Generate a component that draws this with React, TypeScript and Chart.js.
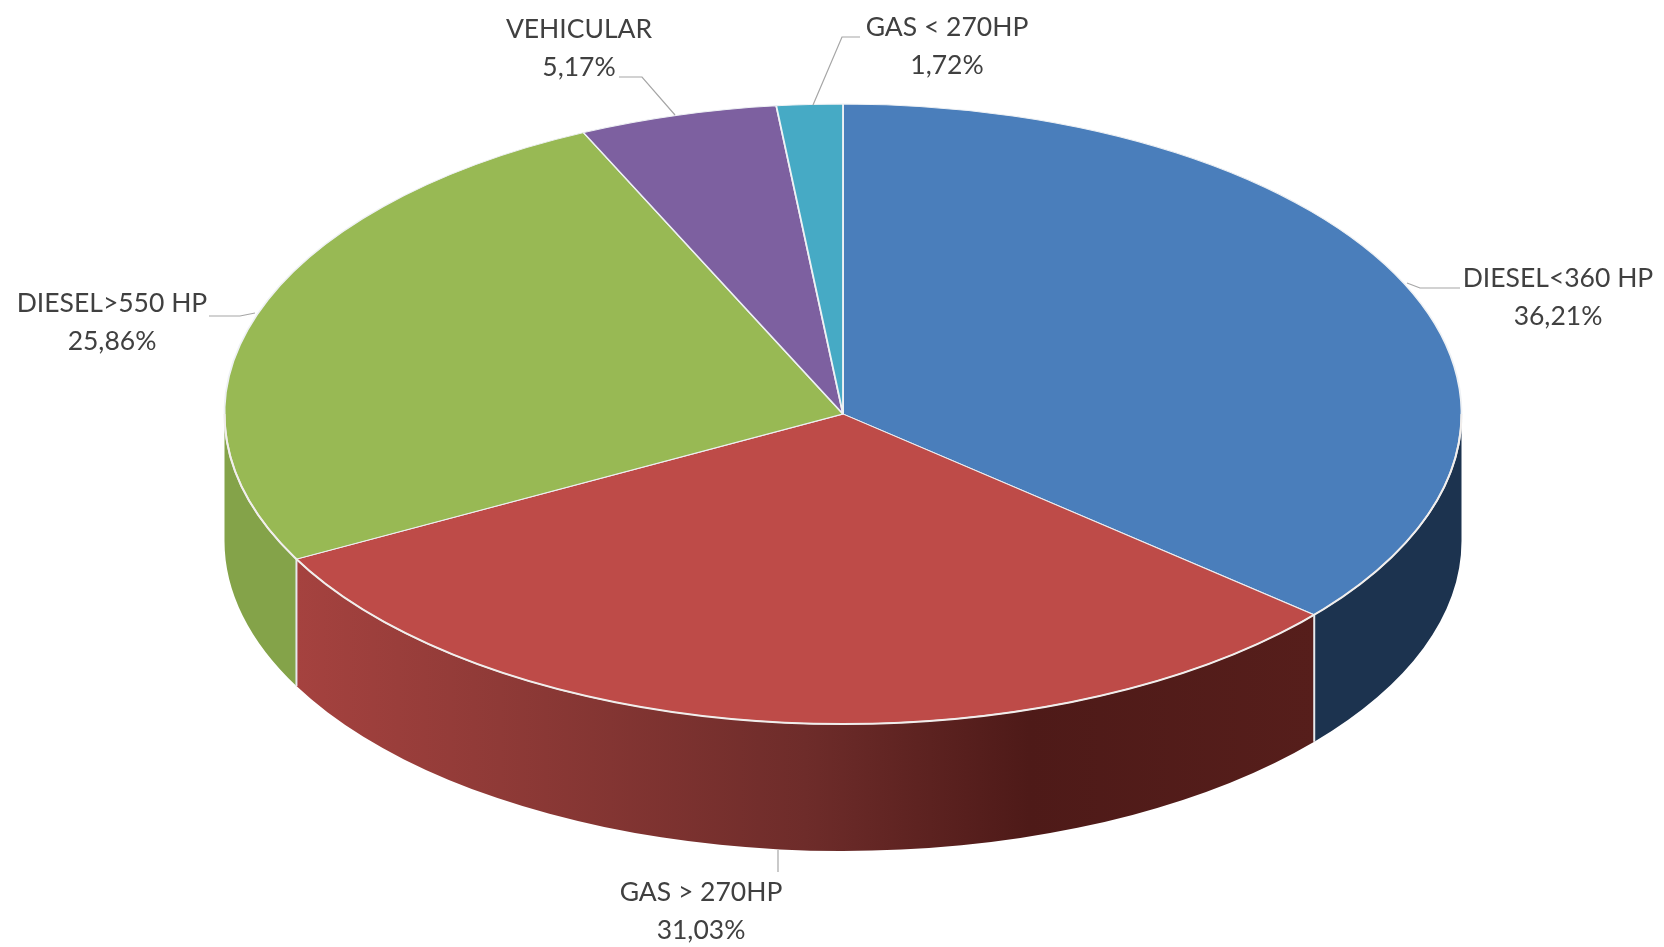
import React, { useEffect, useRef } from "react";
import { Chart, registerables } from "chart.js";

Chart.register(...registerables);

const categories = ["DIESEL<360 HP", "GAS > 270HP", "DIESEL>550 HP", "VEHICULAR", "GAS < 270HP"];
const shares = [36.21, 31.03, 25.86, 5.17, 1.72];
const topColors = ["#4A7EBB", "#BE4B48", "#98B954", "#7D60A0", "#46AAC5"];
const wallColors = ["#1C334F", "#6E2C2A", "#84A349", "#5A4474", "#2F7F94"];
const redWallStops: [number, string][] = [
  [0, "#A5423F"],
  [0.2, "#8F3A37"],
  [0.5, "#6E2C2A"],
  [0.72, "#4E1A18"],
  [1, "#561E1B"],
];

const WIDTH = 1664;
const HEIGHT = 947;
const CENTER_X = 843;
const CENTER_Y = 414;
const RADIUS_X = 618.5;
const RADIUS_Y = 310;
const DEPTH = 127;
const LINE_GAP = 38;

const labelAnchors = [
  { x: 1558, y: 278 },
  { x: 701, y: 892 },
  { x: 112, y: 303 },
  { x: 579, y: 29.5 },
  { x: 947, y: 27 },
];
const leaderPaths = [
  [[1460, 288], [1420, 288], [1407, 283]],
  [[778, 872], [778, 850]],
  [[209, 316], [240, 316], [255, 313]],
  [[619, 77], [642, 77], [675, 115]],
  [[860, 37], [842, 37], [813, 105]],
];

const percent = (v: number) => v.toFixed(2).replace(".", ",") + "%";

const pie3d = {
  id: "pie3d",
  beforeDatasetsDraw(chart: any) {
    const ctx = chart.ctx;
    const arcs = chart.getDatasetMeta(0).data;
    const first = arcs[0];
    const HALF = Math.PI;
    ctx.save();
    arcs.forEach((arc: any, i: number) => {
      const a1 = Math.max(arc.startAngle, 0);
      const a2 = Math.min(arc.endAngle, HALF);
      if (a2 <= a1) return;
      ctx.beginPath();
      ctx.ellipse(CENTER_X, CENTER_Y, RADIUS_X, RADIUS_Y, 0, a1, a2);
      ctx.ellipse(CENTER_X, CENTER_Y + DEPTH, RADIUS_X, RADIUS_Y, 0, a2, a1, true);
      ctx.closePath();
      if (i === 1) {
        const x0 = CENTER_X + RADIUS_X * Math.cos(a2);
        const x1 = CENTER_X + RADIUS_X * Math.cos(a1);
        const g = ctx.createLinearGradient(x0, 0, x1, 0);
        redWallStops.forEach(([s, c]) => g.addColorStop(s, c));
        ctx.fillStyle = g;
      } else {
        ctx.fillStyle = wallColors[i];
      }
      ctx.fill();
    });
    // vertical seams between visible wall pieces
    ctx.strokeStyle = "#E6E9EC";
    ctx.lineWidth = 2;
    arcs.forEach((arc: any) => {
      const a = arc.endAngle;
      if (a > 0 && a < HALF) {
        const x = CENTER_X + RADIUS_X * Math.cos(a);
        const y = CENTER_Y + RADIUS_Y * Math.sin(a);
        ctx.beginPath();
        ctx.moveTo(x, y);
        ctx.lineTo(x, y + DEPTH);
        ctx.stroke();
      }
    });
    ctx.restore();
    ctx.save();
    ctx.translate(CENTER_X, CENTER_Y);
    ctx.scale(RADIUS_X / first.outerRadius, RADIUS_Y / first.outerRadius);
    ctx.translate(-first.x, -first.y);
  },
  afterDatasetsDraw(chart: any) {
    const ctx = chart.ctx;
    ctx.restore();
    // light rim along the front edge of the top face
    ctx.save();
    ctx.strokeStyle = "#F1EEEC";
    ctx.lineWidth = 2;
    ctx.beginPath();
    ctx.ellipse(CENTER_X, CENTER_Y, RADIUS_X, RADIUS_Y, 0, 0, Math.PI);
    ctx.stroke();
    // leader lines
    ctx.strokeStyle = "#A6A6A6";
    ctx.lineWidth = 1.2;
    leaderPaths.forEach((path) => {
      ctx.beginPath();
      path.forEach(([x, y], k) => (k ? ctx.lineTo(x, y) : ctx.moveTo(x, y)));
      ctx.stroke();
    });
    // labels
    ctx.fillStyle = "#404040";
    ctx.font = '26.5px Lato, "Open Sans", sans-serif';
    ctx.textAlign = "center";
    ctx.textBaseline = "middle";
    categories.forEach((name, i) => {
      const { x, y } = labelAnchors[i];
      ctx.fillText(name, x, y);
      ctx.fillText(percent(shares[i]), x, y + LINE_GAP);
    });
    ctx.restore();
  },
};

export default function App() {
  const ref = useRef<HTMLCanvasElement>(null);
  useEffect(() => {
    const chart = new Chart(ref.current!, {
      type: "pie",
      data: {
        labels: categories,
        datasets: [
          {
            data: shares,
            backgroundColor: topColors,
            borderColor: "#EEF1F4",
            borderWidth: 1.4,
            clip: false,
          } as any,
        ],
      },
      options: {
        animation: false,
        responsive: false,
        events: [],
        rotation: 0,
        layout: { padding: 0 },
        plugins: { legend: { display: false }, tooltip: { enabled: false } },
      },
      plugins: [pie3d],
    });
    return () => chart.destroy();
  }, []);
  return (
    <div style={{ position: "absolute", left: 0, top: 0, width: WIDTH, height: HEIGHT, background: "#fff", overflow: "hidden" }}>
      <canvas ref={ref} width={WIDTH} height={HEIGHT} style={{ display: "block", filter: "blur(0.4px)" }} />
    </div>
  );
}
